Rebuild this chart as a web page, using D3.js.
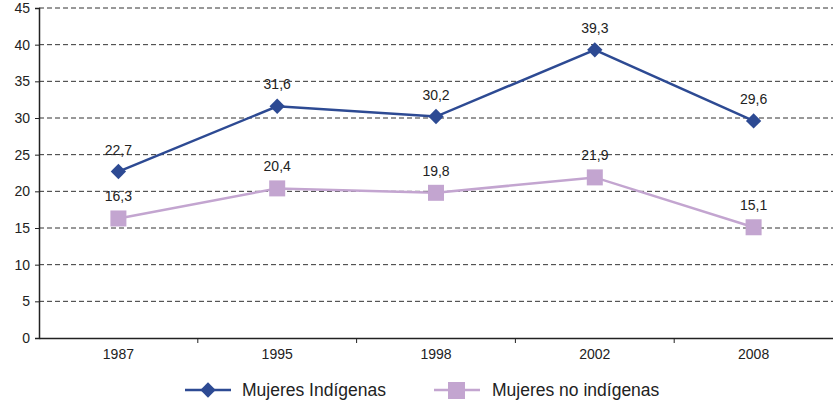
<!DOCTYPE html>
<html>
<head>
<meta charset="utf-8">
<script src="https://cdn.jsdelivr.net/npm/d3@7"></script>
<style>
body { margin: 0; background: #fff; }
svg text { font-family: "Liberation Sans", Arial, sans-serif; fill: #222; }
</style>
</head>
<body>
<div id="chart"></div>
<script>
// data
var years = ["1987", "1995", "1998", "2002", "2008"];
var indigenas = [22.7, 31.6, 30.2, 39.3, 29.6];
var noIndigenas = [16.3, 20.4, 19.8, 21.9, 15.1];
var yTicks = [0, 5, 10, 15, 20, 25, 30, 35, 40, 45];
var seriesNames = ["Mujeres Indígenas", "Mujeres no indígenas"];

var width = 833, height = 406;
var margin = {left: 39, right: 0, top: 8, bottom: 68};

var svg = d3.select("#chart").append("svg")
	.attr("width", width)
	.attr("height", height);

var x = d3.scaleBand()
	.domain(years)
	.range([margin.left, width - margin.right]);

var y = d3.scaleLinear()
	.domain([0, 45])
	.range([height - margin.bottom, margin.top]);

// dashed gridlines
svg.selectAll("line.grid")
	.data(yTicks.filter(function(d) { return d > 0; }))
	.enter()
	.append("line")
	.attr("class", "grid")
	.attr("x1", margin.left)
	.attr("x2", width)
	.attr("y1", function(d) { return y(d); })
	.attr("y2", function(d) { return y(d); })
	.attr("stroke", "#333")
	.attr("stroke-width", 1)
	.attr("stroke-dasharray", "5,3");

// y axis
var yAxis = svg.append("g")
	.attr("transform", "translate(" + margin.left + ",0)")
	.call(d3.axisLeft(y).tickValues(yTicks).tickSize(4).tickPadding(5));
yAxis.select(".domain").attr("stroke", "#222").attr("stroke-width", 1.5);
yAxis.selectAll(".tick line").attr("stroke", "#222");
yAxis.selectAll("text").style("font-size", "14px").attr("fill", "#222");

// x axis with ticks at the band edges
var xAxis = svg.append("g")
	.attr("transform", "translate(0," + y(0) + ")")
	.call(d3.axisBottom(x).tickSize(0).tickPadding(11));
xAxis.select(".domain").attr("stroke", "#222").attr("stroke-width", 1.5);
xAxis.selectAll("text").style("font-size", "14px").attr("fill", "#222");

svg.selectAll("line.xtick")
	.data(years.slice(1))
	.enter()
	.append("line")
	.attr("class", "xtick")
	.attr("x1", function(d) { return x(d); })
	.attr("x2", function(d) { return x(d); })
	.attr("y1", y(0))
	.attr("y2", y(0) + 5)
	.attr("stroke", "#222");

var cx = function(d, i) { return x(years[i]) + x.bandwidth() / 2; };

var line = d3.line()
	.x(function(d, i) { return cx(d, i); })
	.y(function(d) { return y(d); });

var blue = "#2d4a93", purple = "#c3a5d0";

// no indigenas series
svg.append("path")
	.datum(noIndigenas)
	.attr("d", line)
	.attr("fill", "none")
	.attr("stroke", purple)
	.attr("stroke-width", 2.5);

svg.selectAll("rect.pt")
	.data(noIndigenas)
	.enter()
	.append("rect")
	.attr("class", "pt")
	.attr("x", function(d, i) { return cx(d, i) - 8; })
	.attr("y", function(d) { return y(d) - 8; })
	.attr("width", 16)
	.attr("height", 16)
	.attr("fill", purple);

// indigenas series
svg.append("path")
	.datum(indigenas)
	.attr("d", line)
	.attr("fill", "none")
	.attr("stroke", blue)
	.attr("stroke-width", 2.5);

var diamond = d3.symbol().type(d3.symbolDiamond2).size(150);

svg.selectAll("path.dm")
	.data(indigenas)
	.enter()
	.append("path")
	.attr("class", "dm")
	.attr("d", diamond)
	.attr("transform", function(d, i) { return "translate(" + cx(d, i) + "," + y(d) + ")"; })
	.attr("fill", blue);

// value labels
function fmt(v) { return v.toFixed(1).replace(".", ","); }

[indigenas, noIndigenas].forEach(function(series, s) {
	svg.selectAll("text.lbl" + s)
		.data(series)
		.enter()
		.append("text")
		.attr("class", "lbl" + s)
		.attr("x", function(d, i) { return cx(d, i); })
		.attr("y", function(d) { return y(d) - 17; })
		.attr("text-anchor", "middle")
		.style("font-size", "14px")
		.text(fmt);
});

// legend
var lg = svg.append("g").attr("transform", "translate(0,390)");

lg.append("line").attr("x1", 185).attr("x2", 231).attr("y1", 0).attr("y2", 0)
	.attr("stroke", blue).attr("stroke-width", 2.5);
lg.append("path").attr("d", diamond).attr("transform", "translate(208,0)").attr("fill", blue);
lg.append("text").attr("x", 242).attr("y", 6).style("font-size", "17.5px").text(seriesNames[0]);

lg.append("line").attr("x1", 434).attr("x2", 480).attr("y1", 0).attr("y2", 0)
	.attr("stroke", purple).attr("stroke-width", 2.5);
lg.append("rect").attr("x", 448).attr("y", -8).attr("width", 17).attr("height", 17).attr("fill", purple);
lg.append("text").attr("x", 492).attr("y", 6).style("font-size", "17.5px").text(seriesNames[1]);
</script>
</body>
</html>
